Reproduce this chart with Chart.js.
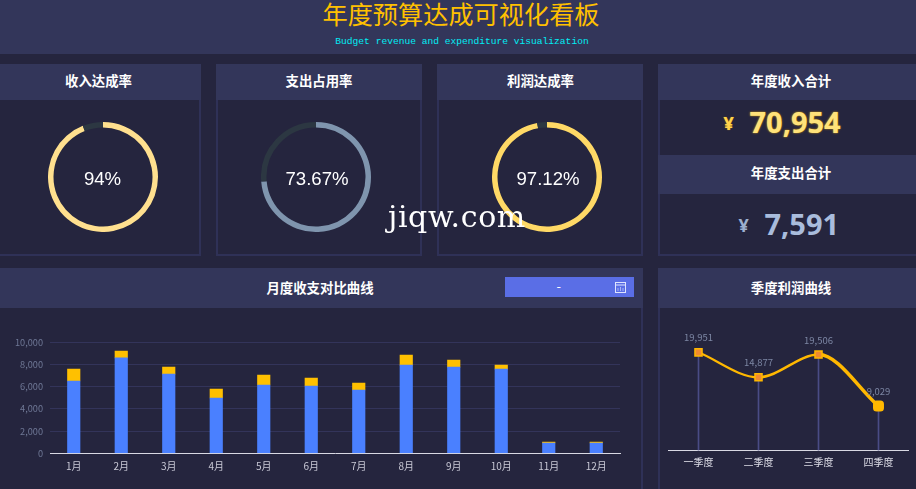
<!DOCTYPE html>
<html lang="zh"><head><meta charset="utf-8">
<script src="https://cdn.jsdelivr.net/npm/chart.js@4"></script>
<style>
html,body{margin:0;padding:0;background:#25253e;overflow:hidden;width:916px;height:489px}
body{position:relative;font-family:"Noto Sans CJK SC",sans-serif}
.b{position:absolute;box-sizing:border-box}
.hdr{position:absolute;background:#33365a}
.panel{position:absolute;box-sizing:border-box;border:2px solid #2f3157;background:#25253e}
.t{position:absolute;color:#fff;font-weight:700;font-size:13.4px;line-height:20px;text-align:center;white-space:nowrap;transform:translateX(-50%)}
.g{position:absolute;color:#fff;font:18.6px "Liberation Sans",sans-serif;line-height:24px;transform:translate(-50%,-50%);white-space:nowrap}
canvas{position:absolute}
.num{position:absolute;font-family:"Noto Sans",sans-serif;font-weight:700;white-space:nowrap;line-height:1}
</style></head><body>
<div class="hdr" style="left:0;top:0;width:916px;height:54px"></div>
<div id="title" style="position:absolute;left:461px;top:-3px;transform:translateX(-50%);color:#ffc000;font-size:25.2px;line-height:32px;white-space:nowrap"></div>
<div id="sub" style="position:absolute;left:462px;top:35px;transform:translateX(-50%);color:#00eef5;font:9.6px 'Liberation Mono',monospace;line-height:13px;white-space:nowrap"></div>

<div class="panel" style="left:-8px;top:64px;width:209px;height:192px"></div><div class="hdr" style="left:0;top:64px;width:201px;height:36px"></div>
<div class="panel" style="left:216px;top:64px;width:206px;height:192px"></div><div class="hdr" style="left:216px;top:64px;width:206px;height:36px"></div>
<div class="panel" style="left:437px;top:64px;width:206px;height:192px"></div><div class="hdr" style="left:437px;top:64px;width:206px;height:36px"></div>
<div class="panel" style="left:658px;top:64px;width:270px;height:192px"></div><div class="hdr" style="left:658px;top:64px;width:258px;height:36px"></div>
<div class="hdr" style="left:658px;top:155px;width:258px;height:39px"></div>
<div class="panel" style="left:-8px;top:268px;width:651px;height:232px"></div><div class="hdr" style="left:0;top:268px;width:643px;height:40px"></div>
<div class="panel" style="left:658px;top:268px;width:270px;height:232px"></div><div class="hdr" style="left:658px;top:268px;width:258px;height:40px"></div>

<div class="t" id="t0" style="left:98.5px;top:70px"></div>
<div class="t" id="t1" style="left:319px;top:70px"></div>
<div class="t" id="t2" style="left:540.5px;top:70px"></div>
<div class="t" id="t3" style="left:791px;top:70px"></div>
<div class="t" id="t4" style="left:791px;top:162px"></div>
<div class="t" id="t5" style="left:320px;top:277px"></div>
<div class="t" id="t6" style="left:791px;top:277px"></div>

<canvas id="g0" width="110" height="110" style="left:48px;top:122px"></canvas>
<canvas id="g1" width="110" height="110" style="left:261px;top:122px"></canvas>
<canvas id="g2" width="110" height="110" style="left:492px;top:122px"></canvas>
<div class="g" id="gt0" style="left:102.5px;top:178.5px"></div>
<div class="g" id="gt1" style="left:317px;top:178.5px"></div>
<div class="g" id="gt2" style="left:548px;top:178.5px"></div>

<div class="num" style="left:723.5px;top:114px;font-size:18px;color:#ffd34d;text-shadow:0 0 1px #c98f00" id="cur0"></div>
<div class="num" id="v0" style="left:749.5px;top:106.5px;font-size:29px;color:#ffe27a;text-shadow:0 0 2px #e0a000"></div>
<div class="num" style="left:738.5px;top:215.5px;font-size:18px;color:#9db0cf" id="cur1"></div>
<div class="num" id="v1" style="left:764.5px;top:208.5px;font-size:29px;color:#a9bcdc"></div>

<div class="b" style="left:505px;top:277px;width:129px;height:20px;background:#5a6ee6"></div>
<div style="position:absolute;left:556.5px;top:279px;color:#fff;font-size:13px;line-height:14px">-</div>
<svg style="position:absolute;left:615px;top:282px" width="11" height="11" viewBox="0 0 11 11"><rect x=".5" y=".5" width="10" height="10" fill="none" stroke="#dfe4ff"/><path d="M1 3h9" stroke="#dfe4ff"/><path d="M3 9V6M5.5 9V5M8 9V6" stroke="#aab4f5"/></svg>

<canvas id="bar" width="640" height="178" style="left:0;top:310px"></canvas>
<canvas id="line" width="256" height="178" style="left:660px;top:310px"></canvas>

<div style="position:absolute;left:388px;top:199px;color:#fff;font:30px 'DejaVu Serif',serif;line-height:36px;letter-spacing:.6px;white-space:nowrap">jiqw.com</div>

<script>
const pageTitle = "年度预算达成可视化看板";
const pageSubtitle = "Budget revenue and expenditure visualization";
const panelTitles = ["收入达成率","支出占用率","利润达成率","年度收入合计","年度支出合计","月度收支对比曲线","季度利润曲线"];
const gaugeValues = [94, 73.67, 97.12];
const gaugeColors = ["#ffe08f", "#7f95ae", "#ffd966"];
const gaugeTrack = "#2c3742";
const yearlyIncome = 70954;
const yearlyExpense = 7591;
const months = ["1月","2月","3月","4月","5月","6月","7月","8月","9月","10月","11月","12月"];
const income = [6510,8590,7140,4980,6150,6060,5700,7950,7770,7590,930,930];
const expense = [1080,620,630,810,900,720,630,900,630,360,90,90];
const quarters = ["一季度","二季度","三季度","四季度"];
const profit = [19951,14877,19506,9029];
const ff = '"Noto Sans CJK SC",sans-serif';

document.getElementById('title').textContent = pageTitle;
document.getElementById('sub').textContent = pageSubtitle;
panelTitles.forEach((s,i)=>document.getElementById('t'+i).textContent=s);
gaugeValues.forEach((v,i)=>{
  document.getElementById('gt'+i).textContent = v+'%';
  new Chart(document.getElementById('g'+i),{type:'doughnut',
    data:{datasets:[{data:[v,100-v],backgroundColor:[gaugeColors[i],gaugeTrack],borderWidth:0}]},
    options:{responsive:false,animation:false,cutout:'90%',plugins:{legend:{display:false},tooltip:{enabled:false}}}});
});
document.getElementById('cur0').textContent='¥';
document.getElementById('cur1').textContent='¥';
document.getElementById('v0').textContent=yearlyIncome.toLocaleString('en-US');
document.getElementById('v1').textContent=yearlyExpense.toLocaleString('en-US');

new Chart(document.getElementById('bar'),{type:'bar',
  data:{labels:months,datasets:[
    {label:'收入',data:income,backgroundColor:'#4a80ff',barThickness:12.5,stack:'a'},
    {label:'支出',data:expense,backgroundColor:'#ffc000',barThickness:12.5,stack:'a'}]},
  options:{responsive:false,animation:false,
    layout:{padding:{left:0,right:20,top:32.3,bottom:0}},
    plugins:{legend:{display:false},tooltip:{enabled:false}},
    scales:{
      x:{stacked:true,grid:{display:false,drawTicks:false},border:{color:'#d9d9e3',width:1},
        ticks:{color:'#c9c9d6',font:{family:ff,size:10},padding:7,maxRotation:0,autoSkip:false},
        afterFit(s){s.height=34.7}},
      y:{stacked:true,min:0,max:10000,grid:{color:'#33345a',lineWidth:1,drawTicks:false},border:{display:false},
        ticks:{stepSize:2000,color:'#6f7896',font:{family:ff,size:9.2},padding:7,callback:v=>v.toLocaleString('en-US')},
        afterFit(s){s.width=50}}
    }}});

const valueLabels={id:'valueLabels',afterDatasetsDraw(c){
  const m=c.getDatasetMeta(1),ctx=c.ctx;
  ctx.save();ctx.font='9.5px '+ff;ctx.fillStyle='#7c86a3';ctx.textAlign='center';ctx.textBaseline='middle';
  m.data.forEach((p,i)=>ctx.fillText(profit[i].toLocaleString('en-US'),p.x,p.y-14.5));
  ctx.restore();}};
const lineWidths=[2.2,2.5,3.5];
new Chart(document.getElementById('line'),{
  data:{labels:quarters,datasets:[
    {type:'bar',data:profit,backgroundColor:'#4a4c85',barThickness:1,barPercentage:1,categoryPercentage:1,borderSkipped:false,order:2},
    {type:'line',data:profit,borderColor:'#ffb800',borderWidth:2.5,cubicInterpolationMode:'monotone',
     segment:{borderWidth:c=>lineWidths[c.p0DataIndex]},
     pointStyle:['rect','rect','rect','rectRounded'],pointRadius:[5,5,5,5.5],
     pointBackgroundColor:['#f08a30','#f08a30','#f08a30','#ffb800'],pointBorderColor:'#ffb800',pointBorderWidth:1.5,order:1}]},
  options:{responsive:false,animation:false,
    layout:{padding:{left:8.5,right:7.5,top:17.5,bottom:0}},
    plugins:{legend:{display:false},tooltip:{enabled:false}},
    scales:{
      x:{offset:true,grid:{display:false,drawTicks:false},border:{color:'#d9d9e3',width:1},
        ticks:{color:'#dcdce6',font:{family:ff,size:10},padding:6,maxRotation:0,autoSkip:false},
        afterFit(s){s.height=37.5}},
      y:{display:false,min:0,max:25000}
    }},plugins:[valueLabels]});
</script>
</body></html>
